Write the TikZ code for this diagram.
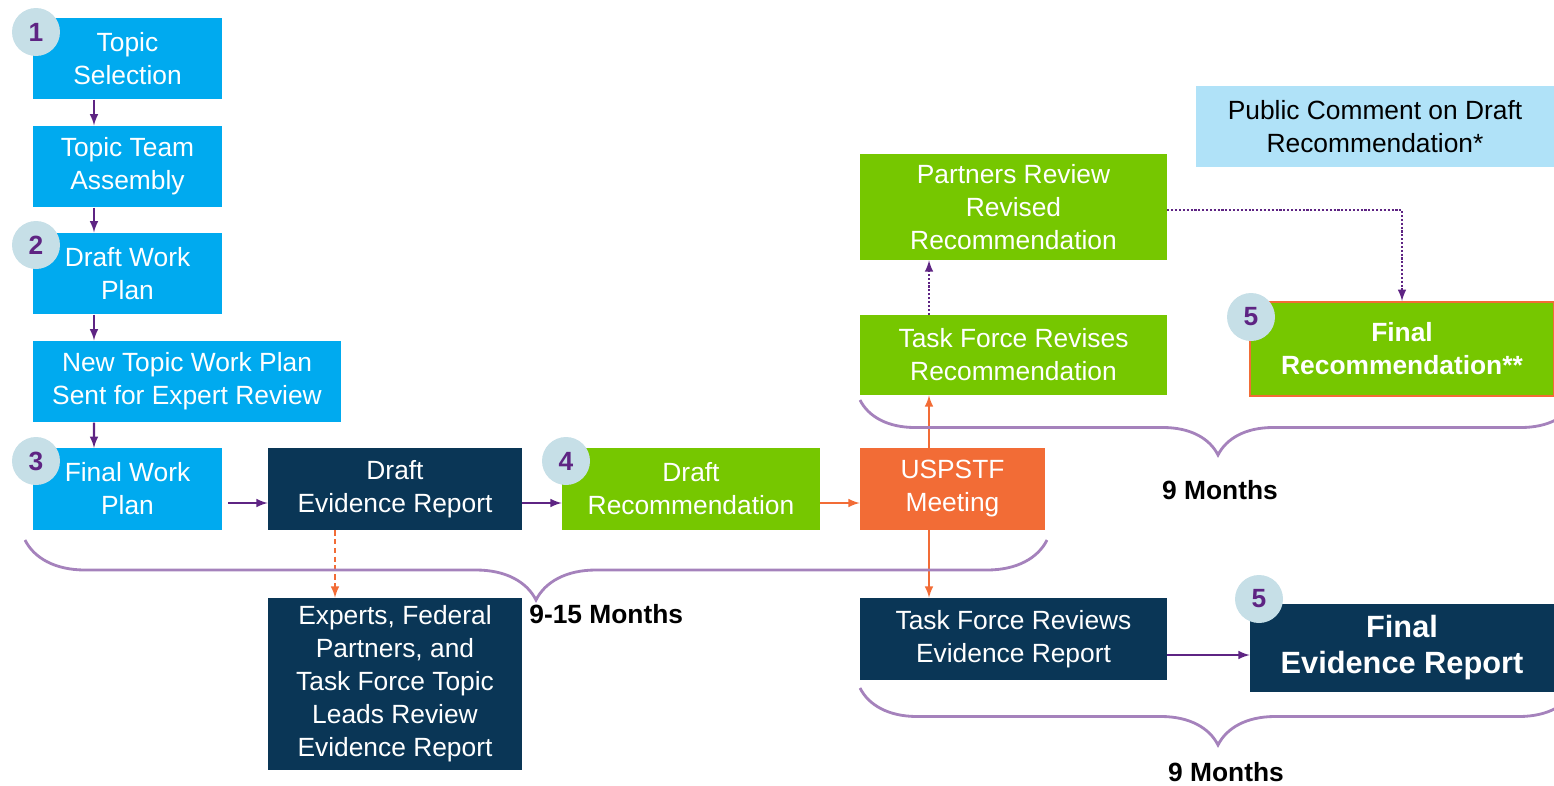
\documentclass[tikz,border=0pt]{standalone}
\usepackage{fontspec}
\setmainfont{Liberation Sans}
\usepackage{tikz}
\usetikzlibrary{arrows}
\usetikzlibrary{decorations.pathreplacing}

\definecolor{skyblue}{HTML}{00AAEF}
\definecolor{navy}{HTML}{0A3656}
\definecolor{leaf}{HTML}{76C700}
\definecolor{tangerine}{HTML}{F26C36}
\definecolor{paleblue}{HTML}{B0E2F8}
\definecolor{bubble}{HTML}{C6DFE7}
\definecolor{plum}{HTML}{5E2483}
\definecolor{lilac}{HTML}{A582BC}

\tikzset{
  box/.style={rectangle, align=center, text=white, inner sep=0pt,
    font=\fontsize{15}{18.8}\selectfont},
  bluebox/.style={box, fill=skyblue, minimum height=1.63cm},
  navybox/.style={box, fill=navy, minimum height=1.64cm},
  greenbox/.style={box, fill=leaf, minimum height=1.64cm},
  orangebox/.style={box, fill=tangerine, minimum height=1.64cm},
  numdot/.style={circle, fill=bubble, minimum size=0.96cm, inner sep=0pt,
    text=plum, font=\bfseries\fontsize{15}{18}\selectfont},
  flow/.style={draw=plum, line width=1.2pt, -latex},
  hotflow/.style={draw=tangerine, line width=1.2pt, -latex},
  timebrace/.style={draw=lilac, line width=1.6pt, decorate},
  months/.style={font=\bfseries\fontsize{15}{18}\selectfont, inner sep=0pt}
}

\begin{document}
\begin{tikzpicture}[x=0.02cm, y=-0.02cm]
  \useasboundingbox (0,0) rectangle (1554,785);

  % work plan column
  \node[bluebox, minimum width=3.78cm] (topic) at (127.5,58.5) {Topic\\Selection};
  \node[bluebox, minimum width=3.78cm] (team) at (127.5,166.5) {Topic Team\\Assembly};
  \node[bluebox, minimum width=3.78cm] (draftplan) at (127.5,273.5) {Draft Work\\Plan};
  \node[bluebox, minimum width=6.16cm] (expertplan) at (187,381.5) {New Topic Work Plan\\Sent for Expert Review};
  \node[bluebox, minimum width=3.78cm] (finalplan) at (127.5,489) {Final Work\\Plan};

  % evidence and recommendation row
  \node[navybox, minimum width=5.08cm] (draftev) at (395,489) {Draft\\Evidence Report};
  \node[navybox, minimum width=5.08cm, minimum height=3.44cm] (experts) at (395,684)
    {Experts, Federal\\Partners, and\\Task Force Topic\\Leads Review\\Evidence Report};
  \node[greenbox, minimum width=5.16cm] (draftrec) at (691,489) {Draft\\Recommendation};
  \node[orangebox, minimum width=3.7cm] (meeting) at (952.5,489) {USPSTF\\Meeting};

  % after the meeting
  \node[greenbox, minimum width=6.14cm, minimum height=1.6cm] (revises) at (1013.5,355)
    {Task Force Revises\\Recommendation};
  \node[greenbox, minimum width=6.14cm, minimum height=2.12cm] (partners) at (1013.5,207)
    {Partners Review\\Revised\\Recommendation};
  \node[navybox, minimum width=6.14cm] (reviews) at (1013.5,639)
    {Task Force Reviews\\Evidence Report};
  \node[navybox, minimum width=6.08cm, minimum height=1.76cm,
    font=\bfseries\fontsize{17.5}{20.5}\selectfont] (finalev) at (1402,648)
    {Final\\Evidence Report};
  \node[greenbox, draw=tangerine, line width=1.2pt, minimum width=6.08cm, minimum height=1.88cm,
    font=\bfseries\fontsize{15}{18.8}\selectfont] (finalrec) at (1402,349)
    {Final\\Recommendation**};
  \node[box, fill=paleblue, text=black, minimum width=7.16cm, minimum height=1.62cm] (comment) at (1375,126.5)
    {Public Comment on Draft\\Recommendation*};

  % step numbers
  \node[numdot] (n1) at (36,32) {1};
  \node[numdot] (n2) at (36,245) {2};
  \node[numdot] (n3) at (36,461) {3};
  \node[numdot] (n4) at (566,461) {4};
  \node[numdot] (n5a) at (1251,317) {5};
  \node[numdot] (n5b) at (1259,599) {5};

  % connectors
  \draw[flow] ([xshift=-0.67cm]topic.south) -- ([xshift=-0.67cm]team.north);
  \draw[flow] ([xshift=-0.67cm]team.south) -- ([xshift=-0.67cm]draftplan.north);
  \draw[flow] ([xshift=-0.67cm]draftplan.south) -- ([xshift=-0.67cm]draftplan.south |- expertplan.north);
  \draw[flow] ([xshift=-1.86cm]expertplan.south) -- ([xshift=-0.67cm]finalplan.north);
  \draw[flow, shorten <=0.12cm] ([yshift=-0.28cm]finalplan.east) -- ([yshift=-0.28cm]draftev.west);
  \draw[flow] ([yshift=-0.28cm]draftev.east) -- ([yshift=-0.28cm]draftrec.west);
  \draw[hotflow] ([yshift=-0.28cm]draftrec.east) -- ([yshift=-0.28cm]meeting.west);
  \draw[hotflow] ([xshift=-0.47cm]meeting.north) -- ([xshift=-0.47cm]meeting.north |- revises.south);
  \draw[hotflow] ([xshift=-0.47cm]meeting.south) -- ([xshift=-0.47cm]meeting.south |- reviews.north);
  \draw[hotflow, densely dashed] ([xshift=-1.2cm]draftev.south) -- ([xshift=-1.2cm]experts.north);
  \draw[flow, densely dotted] ([xshift=-1.69cm]revises.north) -- ([xshift=-1.69cm]partners.south);
  \draw[flow, densely dotted] ([yshift=-0.06cm]partners.east) -| (finalrec.north);
  \draw[flow] ([yshift=-0.32cm]reviews.east) -- ([yshift=-0.32cm]reviews.east -| finalev.west);

  % time spans
  \draw[timebrace, decoration={brace, amplitude=1.2cm}] (1047,540) -- (25,540);
  \node[months, anchor=west] (span1) at (529,614) {9-15 Months};
  \draw[timebrace, decoration={brace, amplitude=1.1cm}] (1576,400) -- (860,400);
  \node[months] (span2) at (1220,490) {9 Months};
  \draw[timebrace, decoration={brace, amplitude=1.14cm}] (1576,688) -- (860,688);
  \node[months] (span3) at (1226,772) {9 Months};
\end{tikzpicture}
\end{document}
